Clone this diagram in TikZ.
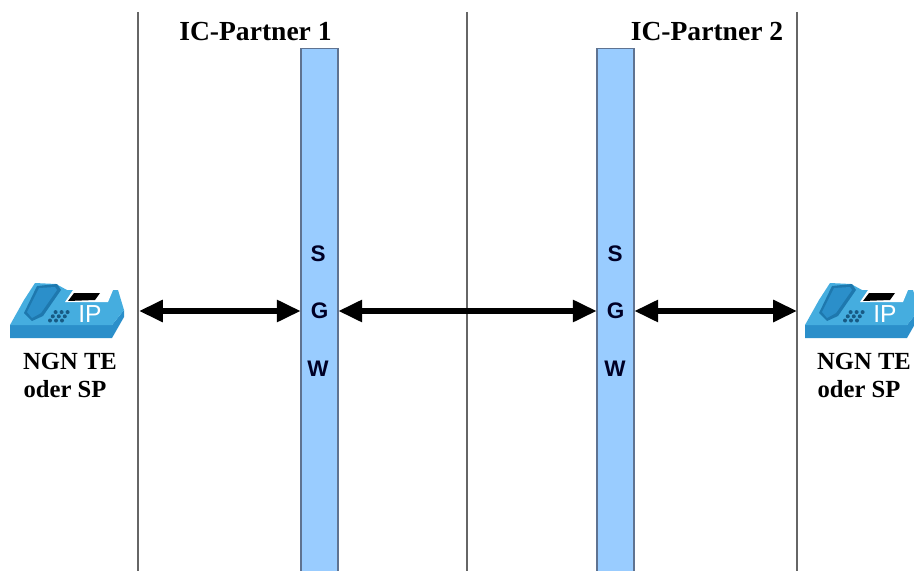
\documentclass[tikz,border=0pt]{standalone}
\usepackage{fontspec}
\setmainfont{Liberation Serif}
\setsansfont{Liberation Sans}
\usetikzlibrary{arrows.meta}
\definecolor{barblue}{HTML}{99CCFF}
\definecolor{bargrey}{HTML}{5F7391}
\definecolor{phonetop}{HTML}{45ADDF}
\definecolor{phoneside}{HTML}{2B8FCA}
\definecolor{phonedark}{HTML}{175A84}
\definecolor{phoneline}{HTML}{1E78AE}
\tikzset{
	barstyle/.style={rectangle,draw=bargrey,line width=0.8pt,fill=barblue,minimum width=0.925cm,minimum height=13.08cm,inner sep=0pt},
	letterstyle/.style={rectangle,font=\sffamily\bfseries\fontsize{16}{18}\selectfont,text=black!85!blue,minimum width=0.925cm,inner sep=0pt},
	titlestyle/.style={rectangle,font=\bfseries\fontsize{19.6}{22}\selectfont,inner sep=0pt},
	labelstyle/.style={rectangle,font=\bfseries\fontsize{17.5}{20}\selectfont,inner sep=0pt},
	linkstyle/.style={line width=4pt,{Stealth[inset=0pt,length=17pt,width=15pt]}-{Stealth[inset=0pt,length=17pt,width=15pt]}},
	partnerline/.style={draw=black!60,line width=0.75pt},
	phone/.pic={
		\fill[phoneside] (10,55)--(10,68)--(112,68)--(124,47)--(124,40)--(112,55)--cycle;
		\fill[phonetop] (10,55)--(24,30)--(35,13)--(56,14)--(67,20)--(118,20)--(124,40)--(112,55)--cycle;
		\fill[phoneline] (24,43)--(37,16)--(57,14)--(61,20)--(43,46)--(32,51)--cycle;
		\fill[phoneside] (27,42)--(39,18)--(55,17)--(57,20)--(41,43)--(32,48)--cycle;
		\fill[white] (65,32)--(73,20)--(113,20)--(108,32)--cycle;
		\fill[black] (68,31)--(74,23)--(100,23)--(95,30)--cycle;
		\foreach \r in {0,1,2}
			\foreach \c in {0,1,2}
				\fill[phonedark] ({50+\c*6+\r*2.8},{50.5-\r*4.2}) circle (2);
		\node[font=\sffamily\fontsize{17.5}{17}\selectfont,text=white,inner sep=0pt] at (90,44) {IP};
	}
}
\begin{document}
\begin{tikzpicture}[x=0.025cm,y=-0.025cm]
		\useasboundingbox (0,0) rectangle (914,571);
		\coordinate (t1) at (138,12);
		\coordinate (t2) at (467,12);
		\coordinate (t3) at (797,12);
		\coordinate (b1) at (138,571);
		\coordinate (b2) at (467,571);
		\coordinate (b3) at (797,571);
		\draw[partnerline] (t1)--(b1);
		\draw[partnerline] (t2)--(b2);
		\draw[partnerline] (t3)--(b3);
		\node[barstyle] (bar1) at (319.5,310) {};
		\node[barstyle] (bar2) at (615.5,310) {};
		\node[letterstyle] (s1) at (318,254) {S};
		\node[letterstyle] (g1) at (319.5,311) {G};
		\node[letterstyle] (w1) at (318,369) {W};
		\node[letterstyle] (s2) at (615,254) {S};
		\node[letterstyle] (g2) at (615.5,311) {G};
		\node[letterstyle] (w2) at (615,369) {W};
		\node[titlestyle] (ic1) at (255.5,32) {IC-Partner 1};
		\node[titlestyle] (ic2) at (707,32) {IC-Partner 2};
		\pic (phone1) at (0,270) {phone};
		\pic (phone2) at (795,270) {phone};
		\node[labelstyle] (te1) at (70,361) {NGN TE};
		\node[labelstyle] (sp1) at (65,389) {oder SP};
		\node[labelstyle] (te2) at (864,361) {NGN TE};
		\node[labelstyle] (sp2) at (859,389) {oder SP};
		\coordinate (a1) at (139,311);
		\coordinate (a3) at (797,311);
		\draw[linkstyle] (a1)--(g1);
		\draw[linkstyle] (g1)--(g2);
		\draw[linkstyle] (g2)--(a3);
		\end{tikzpicture}
\end{document}
